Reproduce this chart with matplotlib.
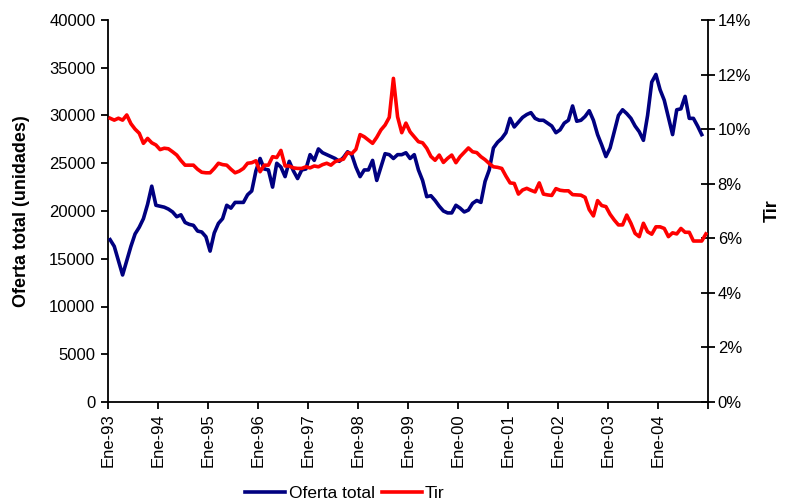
import matplotlib
matplotlib.use("Agg")
import matplotlib.pyplot as plt
from matplotlib.ticker import FuncFormatter, MultipleLocator
import numpy as np

# Monthly series, January 1993 onwards
oferta_total = [
    17000, 16300, 14800, 13300, 14800, 16300, 17600, 18300, 19200, 20700, 22600, 20600,
    20500, 20400, 20200, 19900, 19400, 19600, 18800, 18600, 18500, 17900, 17800, 17300,
    15800, 17700, 18700, 19200, 20600, 20300, 20900, 20900, 20900, 21700, 22100, 24200,
    25500, 24400, 24300, 22500, 25000, 24600, 23600, 25200, 24200, 23400, 24300, 24400,
    25900, 25300, 26500, 26100, 25900, 25700, 25500, 25200, 25600, 26200, 25900, 24600,
    23600, 24300, 24300, 25300, 23200, 24600, 26000, 25900, 25500, 25900, 25900, 26100,
    25500, 25900, 24300, 23200, 21500, 21600, 21100, 20500, 20000, 19800, 19800, 20600,
    20300, 19900, 20100, 20800, 21100, 20900, 23100, 24300, 26600, 27200, 27600, 28200,
    29700, 28800, 29300, 29800, 30100, 30300, 29700, 29500, 29500, 29200, 28900, 28200,
    28500, 29200, 29500, 31000, 29400, 29500, 29900, 30500, 29500, 28000, 26900, 25700,
    26600, 28300, 30000, 30600, 30200, 29700, 28900, 28300, 27400, 30000, 33500, 34300,
    32700, 31600, 29800, 28000, 30600, 30700, 32000, 29700, 29700, 28900, 28000,
]

tir = [
    10.40, 10.33, 10.40, 10.33, 10.52, 10.20, 10.00, 9.85, 9.48, 9.66, 9.50, 9.42,
    9.25, 9.30, 9.28, 9.17, 9.05, 8.85, 8.68, 8.68, 8.68, 8.53, 8.42, 8.40,
    8.40, 8.56, 8.75, 8.70, 8.68, 8.53, 8.40, 8.46, 8.56, 8.75, 8.77, 8.84,
    8.44, 8.68, 8.68, 8.99, 8.96, 9.22, 8.65, 8.65, 8.58, 8.56, 8.56, 8.62,
    8.58, 8.65, 8.62, 8.70, 8.75, 8.68, 8.81, 8.86, 8.90, 9.14, 9.10, 9.26,
    9.80, 9.72, 9.60, 9.48, 9.70, 9.97, 10.15, 10.43, 11.86, 10.45, 9.87, 10.22,
    9.90, 9.72, 9.54, 9.50, 9.30, 9.00, 8.86, 9.05, 8.78, 8.93, 9.05, 8.77,
    8.99, 9.15, 9.31, 9.17, 9.14, 8.99, 8.88, 8.74, 8.62, 8.60, 8.56, 8.28,
    8.03, 8.01, 7.62, 7.77, 7.83, 7.76, 7.70, 8.03, 7.62, 7.59, 7.57, 7.82,
    7.76, 7.74, 7.74, 7.60, 7.59, 7.58, 7.50, 7.05, 6.82, 7.38, 7.20, 7.16,
    6.88, 6.67, 6.49, 6.49, 6.85, 6.55, 6.18, 6.06, 6.55, 6.24, 6.15, 6.42,
    6.42, 6.36, 6.06, 6.20, 6.16, 6.36, 6.22, 6.22, 5.90, 5.90, 5.90, 6.16,
]

year_labels = ["Ene-93", "Ene-94", "Ene-95", "Ene-96", "Ene-97", "Ene-98",
               "Ene-99", "Ene-00", "Ene-01", "Ene-02", "Ene-03", "Ene-04"]

n_months = 144
plt.rcParams["font.family"] = ["Liberation Sans", "DejaVu Sans"]
fs = 12

fig = plt.figure(figsize=(7.86, 5.01), dpi=100)
ax = fig.add_axes([108 / 786, 1 - 402 / 501, 600 / 786, 382 / 501])
ax2 = ax.twinx()

x_blue = np.arange(len(oferta_total)) + 0.5
x_red = np.arange(len(tir)) + 0.5

l1, = ax.plot(x_blue, oferta_total, color="#000080", lw=2.6, solid_joinstyle="round",
              label="Oferta total", zorder=3)
l2, = ax2.plot(x_red, tir, color="#FF0000", lw=2.6, solid_joinstyle="round",
               label="Tir", zorder=3)

ax.set_xlim(0, n_months)
ax.set_ylim(0, 40000)
ax2.set_ylim(0, 14)

ax.yaxis.set_major_locator(MultipleLocator(5000))
ax2.yaxis.set_major_locator(MultipleLocator(2))
ax2.yaxis.set_major_formatter(FuncFormatter(lambda v, p: f"{v:.0f}%"))

ax.set_xticks(np.arange(0, n_months + 1, 12))
ax.set_xticklabels(year_labels + [""], rotation=90, fontsize=fs)

for a in (ax, ax2):
    a.spines["top"].set_visible(False)
    for s in a.spines.values():
        s.set_linewidth(1.3)
ax.spines["right"].set_visible(False)
ax2.spines["left"].set_visible(False)
ax2.spines["bottom"].set_visible(False)

ax.tick_params(axis="y", direction="out", length=5, width=1.3, labelsize=fs, pad=4)
ax.tick_params(axis="x", direction="out", length=5, width=1.3, pad=3)
ax2.tick_params(axis="y", direction="inout", length=10, width=1.3, labelsize=fs, pad=2)

ax.set_ylabel("Oferta total (unidades)", fontsize=13, fontweight="bold", labelpad=14)
ax2.set_ylabel("Tir", fontsize=13, fontweight="bold", labelpad=9)

fig.legend(handles=[l1, l2], loc="center", bbox_to_anchor=(345 / 786, 1 - 493 / 501),
           ncol=2, frameon=False, fontsize=12.5, handlelength=2.3, handletextpad=0.2,
           columnspacing=0.4, borderpad=0.1)

fig.savefig("out.png", dpi=100)
